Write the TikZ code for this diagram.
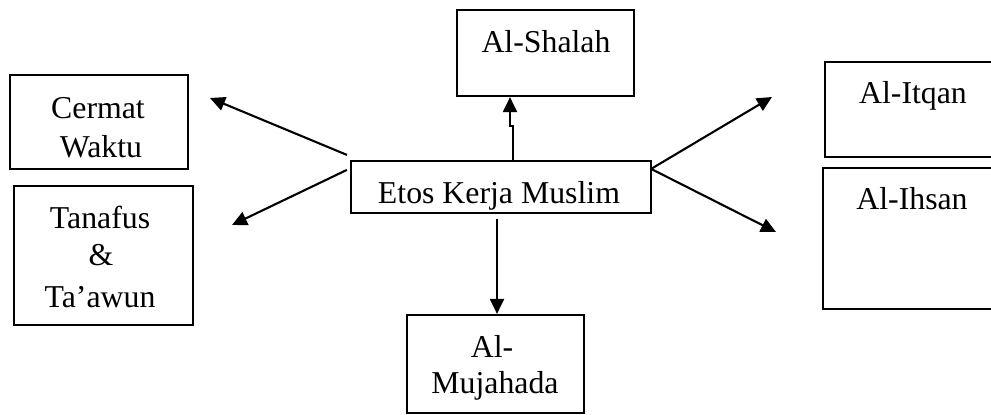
\documentclass[tikz,border=0pt]{standalone}
\usepackage{fontspec}
\setmainfont{Liberation Serif}
\usetikzlibrary{arrows.meta,calc}
\begin{document}
\begin{tikzpicture}[x=1pt,y=-1pt,
  box/.style={draw,line width=2.2pt,rectangle,inner sep=0pt},
  lbl/.style={anchor=base,inner sep=0pt,font=\fontsize{31.8}{37}\selectfont},
  arr/.style={line width=2.1pt,-{Triangle[length=15pt,width=14pt]}}]
\clip (0,0) rectangle (991,415);
% boxes
\node[box,minimum width=178pt,minimum height=94pt] (cw) at (99,122) {};
\node[box,minimum width=179pt,minimum height=139pt] (tt) at (103.5,255.5) {};
\node[box,minimum width=177pt,minimum height=86pt] (sh) at (545.5,53) {};
\node[box,minimum width=300pt,minimum height=52pt] (ekm) at (501,187) {};
\node[box,minimum width=177pt,minimum height=98pt] (muj) at (495.5,364) {};
\node[box,minimum width=180pt,minimum height=95pt] (itq) at (915,109.5) {};
\node[box,minimum width=182pt,minimum height=141pt] (ihs) at (914,238.5) {};
% labels
\node[lbl] (cw1) at (98,118) {Cermat};
\node[lbl] (cw2) at (101,157) {Waktu};
\node[lbl] (tt1) at (100,228) {Tanafus};
\node[lbl] (tt2) at (101,265) {\&};
\node[lbl] (tt3) at (100,307) {Ta’awun};
\node[lbl] (sh1) at (546,52) {Al-Shalah};
\node[lbl] (ekm1) at (499,203) {Etos Kerja Muslim};
\node[lbl] (muj1) at (492,357) {Al-};
\node[lbl] (muj2) at (495,393) {Mujahada};
\node[lbl] (itq1) at (913,103) {Al-Itqan};
\node[lbl] (ihs1) at (912,209) {Al-Ihsan};
% free ends
\coordinate (cwEnd) at (210,98);
\coordinate (ttEnd) at (232,225);
\coordinate (itqEnd) at (772,97);
\coordinate (ihsEnd) at (776,232);
% connectors
\draw[arr] ($(ekm.north west)+(-3,-5)$) -- (cwEnd);
\draw[arr] ($(ekm.north west)+(-3,10)$) -- (ttEnd);
\draw[arr] ($(ekm.north east)+(-1,9)$) -- (itqEnd);
\draw[arr] ($(ekm.north east)+(-1,9)$) -- (ihsEnd);
\draw[arr] ($(ekm.north)+(11.7,0)$) -- ++(0,-34) -| ($(sh.south)+(-35.5,0)$);
\draw[arr] ($(ekm.south)+(-4,5)$) -- ($(muj.north)+(1.5,0)$);
\end{tikzpicture}
\end{document}
